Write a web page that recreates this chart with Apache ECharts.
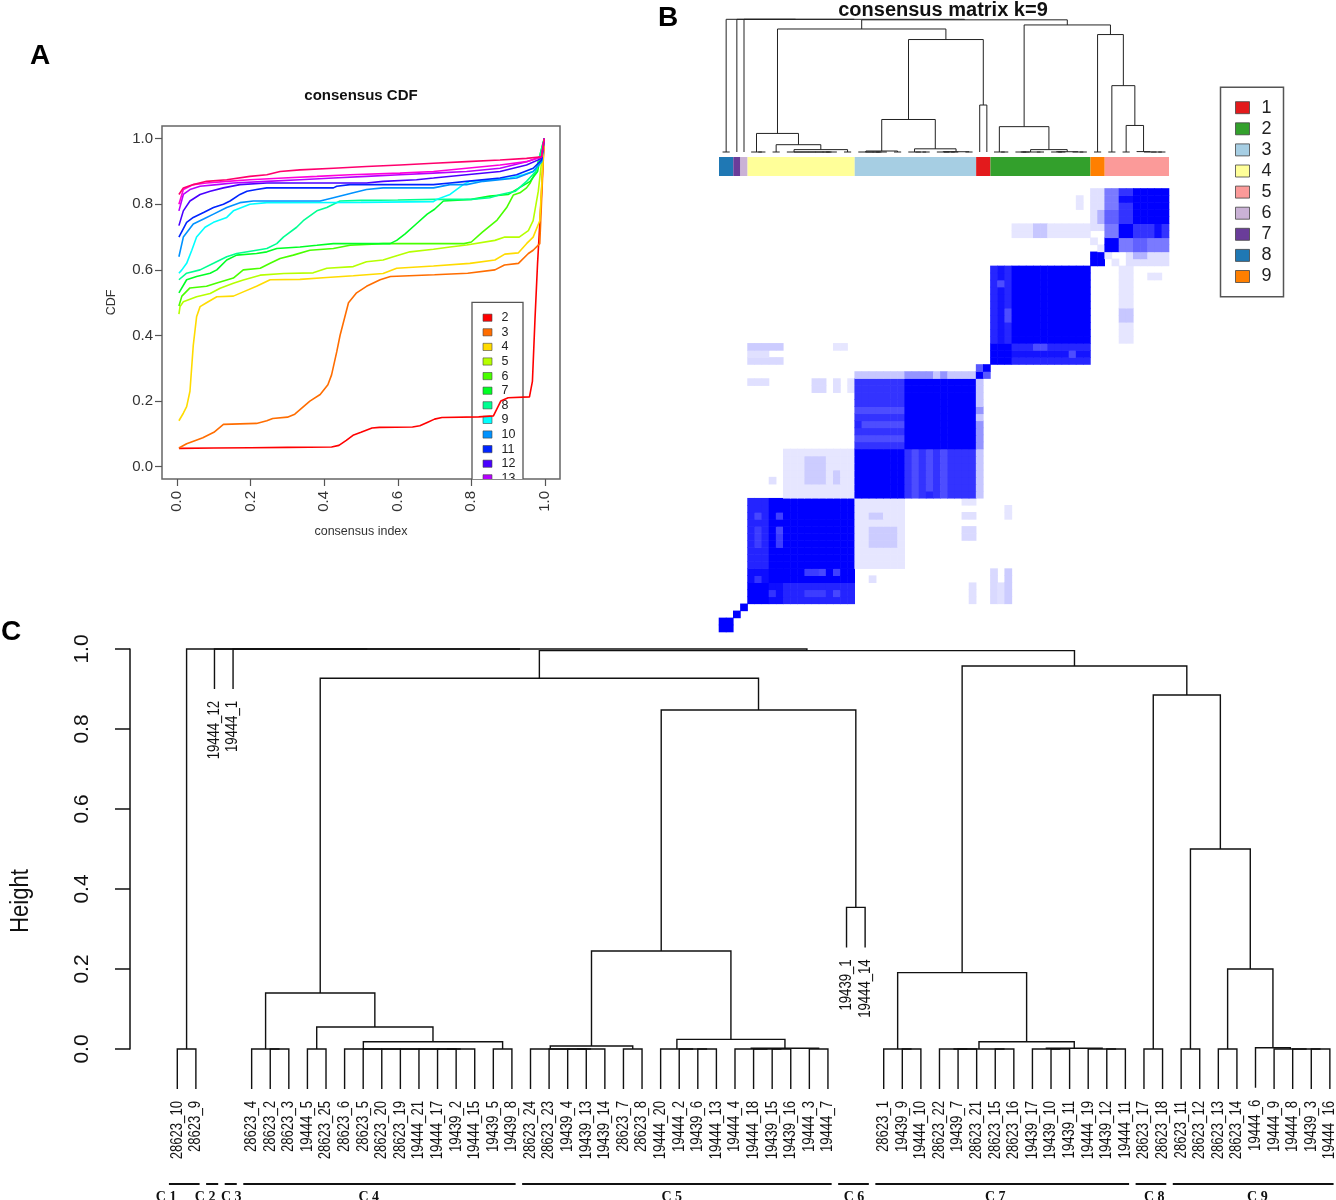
<!DOCTYPE html>
<html>
<head>
<meta charset="utf-8">
<title>Consensus clustering</title>
<script src="https://cdn.jsdelivr.net/npm/echarts@6/dist/echarts.min.js"></script>
<style>
html, body { margin: 0; padding: 0; background: #fff; }
#main { width: 1336px; height: 1200px; }
</style>
</head>
<body>
<div id="main"></div>
<script>
// ---- panel A: consensus CDF, one curve per k ----
const kValues = [2, 3, 4, 5, 6, 7, 8, 9, 10, 11, 12, 13, 14, 15];
const kColors = ['#FF0000', '#FF6D00', '#FFDB00', '#B6FF00', '#49FF00', '#00FF24', '#00FF92',
                 '#00FFFF', '#0092FF', '#0024FF', '#4900FF', '#B600FF', '#FF00DB', '#FF006D'];
const cdfTicks = [0, 0.2, 0.4, 0.6, 0.8, 1.0];

const cdf2 = [[0.005,0.056],[0.1,0.057],[0.2,0.058],[0.3,0.059],[0.42,0.06],[0.44,0.065],[0.46,0.08],[0.48,0.097],
  [0.5,0.105],[0.53,0.118],[0.55,0.12],[0.64,0.121],[0.66,0.125],[0.68,0.135],[0.7,0.145],[0.72,0.15],[0.82,0.152],
  [0.86,0.155],[0.88,0.2],[0.9,0.21],[0.958,0.213],[0.966,0.26],[0.973,0.45],[0.98,0.62],[0.99,0.82],[0.998,1.0]];
const cdf3 = [[0.005,0.057],[0.026,0.07],[0.05,0.08],[0.07,0.088],[0.1,0.105],[0.126,0.129],[0.216,0.132],[0.244,0.14],
  [0.26,0.147],[0.3,0.151],[0.32,0.16],[0.361,0.2],[0.389,0.22],[0.41,0.25],[0.42,0.28],[0.434,0.35],[0.443,0.4],
  [0.466,0.5],[0.488,0.53],[0.515,0.55],[0.552,0.57],[0.58,0.58],[0.7,0.585],[0.79,0.59],[0.864,0.6],[0.89,0.615],
  [0.928,0.62],[0.955,0.65],[0.968,0.66],[0.986,0.68],[0.998,1.0]];
const cdf4 = [[0.005,0.14],[0.017,0.163],[0.026,0.183],[0.035,0.23],[0.044,0.37],[0.053,0.457],[0.0625,0.488],[0.08,0.5],
  [0.108,0.518],[0.153,0.52],[0.18,0.533],[0.216,0.55],[0.253,0.57],[0.334,0.571],[0.407,0.577],[0.479,0.582],[0.56,0.589],
  [0.597,0.605],[0.697,0.612],[0.796,0.62],[0.864,0.63],[0.891,0.648],[0.928,0.652],[0.95,0.68],[0.968,0.7],[0.986,0.75],[0.998,1.0]];
const cdf5 = [[0.005,0.465],[0.008,0.488],[0.017,0.503],[0.053,0.518],[0.09,0.528],[0.117,0.544],[0.153,0.559],[0.18,0.569],
  [0.226,0.584],[0.29,0.589],[0.37,0.591],[0.407,0.605],[0.479,0.61],[0.515,0.625],[0.56,0.63],[0.588,0.64],[0.633,0.655],
  [0.697,0.663],[0.742,0.67],[0.787,0.676],[0.864,0.69],[0.891,0.7],[0.93,0.7],[0.955,0.72],[0.968,0.75],[0.982,0.84],[0.998,1.0]];
const cdf6 = [[0.005,0.49],[0.013,0.52],[0.035,0.545],[0.08,0.55],[0.108,0.56],[0.153,0.575],[0.18,0.6],[0.226,0.605],
  [0.253,0.62],[0.28,0.635],[0.316,0.645],[0.361,0.66],[0.425,0.665],[0.47,0.675],[0.56,0.68],[0.78,0.68],[0.8,0.685],
  [0.83,0.715],[0.87,0.752],[0.896,0.79],[0.914,0.828],[0.932,0.835],[0.95,0.85],[0.96,0.865],[0.975,0.9],[0.998,1.0]];
const cdf7 = [[0.005,0.53],[0.026,0.57],[0.053,0.58],[0.09,0.59],[0.108,0.6],[0.135,0.63],[0.162,0.645],[0.216,0.65],
  [0.244,0.655],[0.271,0.665],[0.334,0.67],[0.38,0.675],[0.425,0.68],[0.579,0.68],[0.597,0.69],[0.62,0.71],[0.65,0.74],
  [0.68,0.77],[0.7,0.785],[0.724,0.81],[0.8,0.815],[0.85,0.825],[0.9,0.83],[0.93,0.85],[0.96,0.87],[0.98,0.9],[0.998,1.0]];
const cdf8 = [[0.005,0.57],[0.026,0.59],[0.0625,0.6],[0.099,0.62],[0.135,0.64],[0.162,0.65],[0.216,0.66],[0.244,0.665],
  [0.271,0.68],[0.289,0.7],[0.325,0.73],[0.343,0.75],[0.38,0.78],[0.407,0.79],[0.443,0.81],[0.5,0.812],[0.6,0.813],
  [0.7,0.815],[0.8,0.815],[0.85,0.82],[0.88,0.83],[0.92,0.84],[0.95,0.87],[0.975,0.9],[0.998,1.0]];
const cdf9 = [[0.005,0.59],[0.013,0.6],[0.026,0.62],[0.04,0.66],[0.053,0.7],[0.076,0.73],[0.099,0.745],[0.135,0.76],
  [0.153,0.78],[0.198,0.8],[0.244,0.805],[0.5,0.806],[0.697,0.808],[0.706,0.815],[0.742,0.83],[0.778,0.86],[0.796,0.87],
  [0.86,0.875],[0.905,0.88],[0.941,0.89],[0.968,0.9],[0.991,0.93],[0.998,1.0]];
const cdf10 = [[0.005,0.64],[0.017,0.7],[0.044,0.74],[0.072,0.755],[0.099,0.77],[0.135,0.79],[0.171,0.805],[0.207,0.81],
  [0.389,0.81],[0.425,0.82],[0.479,0.835],[0.515,0.845],[0.56,0.85],[0.697,0.85],[0.742,0.86],[0.787,0.86],[0.832,0.87],
  [0.923,0.88],[0.968,0.9],[0.991,0.93],[0.998,1.0]];
const cdf11 = [[0.005,0.7],[0.026,0.745],[0.044,0.76],[0.072,0.775],[0.099,0.79],[0.126,0.8],[0.144,0.81],[0.171,0.83],
  [0.19,0.84],[0.216,0.845],[0.244,0.85],[0.425,0.85],[0.434,0.855],[0.47,0.86],[0.697,0.86],[0.742,0.865],[0.787,0.87],
  [0.878,0.88],[0.923,0.89],[0.968,0.91],[0.991,0.935],[0.998,1.0]];
const cdf12 = [[0.005,0.735],[0.017,0.78],[0.035,0.81],[0.0625,0.83],[0.09,0.84],[0.126,0.85],[0.171,0.86],[0.244,0.865],
  [0.515,0.865],[0.56,0.87],[0.651,0.875],[0.697,0.88],[0.787,0.89],[0.878,0.9],[0.95,0.92],[0.991,0.94],[0.998,1.0]];
const cdf13 = [[0.005,0.78],[0.017,0.83],[0.035,0.845],[0.0625,0.855],[0.108,0.86],[0.153,0.865],[0.244,0.87],[0.334,0.875],
  [0.425,0.88],[0.515,0.885],[0.606,0.89],[0.697,0.895],[0.787,0.9],[0.878,0.91],[0.95,0.93],[0.991,0.945],[0.998,1.0]];
const cdf14 = [[0.005,0.8],[0.017,0.845],[0.044,0.86],[0.08,0.865],[0.135,0.87],[0.198,0.875],[0.289,0.88],[0.38,0.885],
  [0.47,0.89],[0.606,0.895],[0.697,0.9],[0.787,0.91],[0.878,0.92],[0.95,0.93],[0.991,0.945],[0.998,1.0]];
const cdf15 = [[0.005,0.83],[0.017,0.85],[0.044,0.86],[0.08,0.87],[0.135,0.875],[0.198,0.885],[0.244,0.89],[0.28,0.9],
  [0.334,0.905],[0.425,0.91],[0.515,0.915],[0.606,0.92],[0.697,0.925],[0.787,0.93],[0.878,0.935],[0.95,0.94],[0.991,0.945],[0.998,1.0]];
const cdfCurves = [cdf2, cdf3, cdf4, cdf5, cdf6, cdf7, cdf8, cdf9, cdf10, cdf11, cdf12, cdf13, cdf14, cdf15];

// ---- clusters (k = 9) ----
const clusterNames = ['C 1', 'C 2', 'C 3', 'C 4', 'C 5', 'C 6', 'C 7', 'C 8', 'C 9'];
const clusterSizes = [2, 1, 1, 15, 17, 2, 14, 2, 9];
const clusterLabelAt = [0.4, 2.5, 3.9, 11.3, 27.6, 37.4, 45.0, 53.55, 59.1];  // leaf units
const consensusClass = [8, 7, 6, 4, 3, 1, 2, 9, 5];
const classLabels = ['1', '2', '3', '4', '5', '6', '7', '8', '9'];
const classColors = ['#E31A1C', '#33A02C', '#A6CEE3', '#FFFF99', '#FB9A99', '#CAB2D6', '#6A3D9A', '#1F78B4', '#FF7F00'];

// sample dendrogram: [height, left, right]; leaves are sample names
const sampleTree = [1.0, [0, '28623_10', '28623_9'],
  [1.0, '19444_12',
    [1.0, '19444_1',
      [0.996,
        [0.927,
          [0.14,
            [0, '28623_4', [0, '28623_2', '28623_3']],
            [0.055,
              [0, '19444_5', '28623_25'],
              [0.018,
                [0, '28623_6', [0, '28623_5', [0, '28623_20', [0, '28623_19', [0, '19444_21',
                  [0, [0, '19444_17', '19439_2'], '19444_15']]]]]],
                [0, '19439_5', '19439_8']]]],
          [0.8475,
            [0.245,
              [0.0075,
                [0, '28623_24', [0, '28623_23', [0, [0, '19439_4', '19439_13'], '19439_14']]],
                [0, '28623_7', '28623_8']],
              [0.024,
                [0, '19444_20', [0, '19444_2', [0, '19439_6', '19444_13']]],
                [0.002,
                  [0, '19444_4', [0, '19444_18', [0, '19439_15', '19439_16']]],
                  [0, '19444_3', '19444_7']]]],
            [0.354, '19439_1', '19444_14']]],
        [0.9575,
          [0.191,
            [0, '28623_1', [0, '19439_9', '19444_10']],
            [0.018,
              [0, [0, '28623_22', [0, '19439_7', '28623_21']], [0, '28623_15', '28623_16']],
              [0.002,
                [0, '19439_17', [0, '19439_10', '19439_11']],
                [0, '19444_19', [0, '19439_12', '19444_11']]]]],
          [0.885,
            [0, '28623_17', '28623_18'],
            [0.5,
              [0, '28623_11', '28623_12'],
              [0.2,
                [0, '28623_13', '28623_14'],
                [0.003, '19444_6', [0, '19444_9', [0, '19444_8', [0, '19439_3', '19444_16']]]]]]]]]]]];

// consensus values off the cluster blocks: [rowFrom, rowTo, colFrom, colTo, value] (leaf order, mirrored)
const consensusPatches = [
  [10, 19, 5, 7, 0.86], [8, 9, 5, 7, 0.95], [17, 17, 6, 6, 0.72], [17, 17, 9, 9, 0.75],
  [13, 15, 6, 6, 0.76], [13, 15, 9, 9, 0.76], [8, 8, 6, 6, 0.8], [15, 15, 9, 9, 0.72],
  [20, 26, 10, 19, 0.1], [22, 25, 13, 15, 0.2], [22, 23, 17, 17, 0.2], [22, 22, 8, 8, 0.12],
  [27, 36, 20, 26, 0.8], [28, 28, 20, 26, 0.7], [30, 30, 20, 26, 0.7], [32, 32, 20, 26, 0.7], [30, 30, 20, 20, 0.85],
  [37, 37, 20, 36, 0.22], [37, 37, 27, 30, 0.42], [37, 37, 32, 32, 0.42], [37, 37, 38, 38, 0.65],
  [41, 41, 5, 9, 0.2], [39, 39, 5, 9, 0.15], [40, 40, 5, 7, 0.12], [41, 41, 17, 18, 0.1],
  [36, 36, 5, 7, 0.12], [35, 36, 14, 15, 0.15], [35, 36, 17, 17, 0.12], [35, 36, 19, 19, 0.1],
  [42, 52, 39, 39, 0.85], [42, 52, 40, 40, 0.92], [42, 52, 41, 41, 0.85], [45, 46, 41, 41, 0.7], [50, 50, 40, 40, 0.7],
  [57, 58, 42, 52, 0.1], [57, 58, 45, 46, 0.22], [61, 62, 51, 51, 0.1],
  [58, 63, 53, 54, 0.12], [59, 60, 54, 54, 0.3], [55, 55, 54, 54, 0.1], [56, 56, 53, 53, 0.1],
  [57, 63, 55, 56, 0.52], [59, 60, 55, 56, 0.62], [59, 63, 57, 58, 0.8], [62, 62, 57, 58, 0.95]
];

// ---- build tree geometry in leaf units ----
function buildTree(tree, hang) {
  const leaves = [], links = [], tips = [];
  function walk(node) {
    if (typeof node === 'string') {
      leaves.push(node);
      return { x: leaves.length, leaf: true };
    }
    const a = walk(node[1]);
    const b = walk(node[2]);
    const h = node[0];
    const ya = a.leaf ? (hang < 0 ? 0 : h - hang) : a.h;
    const yb = b.leaf ? (hang < 0 ? 0 : h - hang) : b.h;
    if (a.leaf) tips.push([a.x, ya]);
    if (b.leaf) tips.push([b.x, yb]);
    links.push([a.x, ya, b.x, yb, h]);
    return { x: (a.x + b.x) / 2, h: h, leaf: false };
  }
  walk(tree);
  tips.sort((p, q) => p[0] - q[0]);
  return { leaves: leaves, links: links, tips: tips };
}
const treeC = buildTree(sampleTree, 0.1);
const treeB = buildTree(sampleTree, -1);
const nLeaf = treeC.leaves.length;

// cluster spans
const clusterSpans = [];
let cum = 0;
clusterSizes.forEach(function (s, i) {
  clusterSpans.push([cum + 1, cum + s, i]);
  cum += s;
});

// consensus matrix
const mat = [];
for (let i = 0; i < nLeaf; i++) mat.push(new Array(nLeaf).fill(0));
clusterSpans.forEach(function (sp) {
  for (let i = sp[0]; i <= sp[1]; i++) for (let j = sp[0]; j <= sp[1]; j++) mat[i - 1][j - 1] = 1;
});
consensusPatches.forEach(function (p) {
  for (let r = p[0]; r <= p[1]; r++) for (let c = p[2]; c <= p[3]; c++) {
    mat[r - 1][c - 1] = p[4];
    mat[c - 1][r - 1] = p[4];
  }
});
const heatData = [];
for (let r = 0; r < nLeaf; r++) for (let c = 0; c < nLeaf; c++) {
  if (mat[r][c] > 0) heatData.push([c + 1, r + 1, mat[r][c]]);
}

const chart = echarts.init(document.getElementById('main'), null, { renderer: 'canvas' });

const SANS = '"Liberation Sans", Arial, Helvetica, sans-serif';
const NARROW = 0.82;   // R's narrow Helvetica in panel C

function linkRenderer(color, width) {
  return function (params, api) {
    const p1 = api.coord([api.value(0), api.value(1)]);
    const p2 = api.coord([api.value(0), api.value(4)]);
    const p3 = api.coord([api.value(2), api.value(4)]);
    const p4 = api.coord([api.value(2), api.value(3)]);
    return {
      type: 'polyline',
      shape: { points: [p1, p2, p3, p4] },
      style: { stroke: color, lineWidth: width, fill: null }
    };
  };
}

const cdfSeries = cdfCurves.map(function (d, i) {
  return {
    type: 'line', name: String(kValues[i]), xAxisIndex: 0, yAxisIndex: 0,
    data: d, showSymbol: false, symbol: 'none', silent: true,
    lineStyle: { color: kColors[i], width: 1.6 }, itemStyle: { color: kColors[i] }
  };
});

const option = {
  animation: false,
  backgroundColor: '#ffffff',
  grid: [
    { left: 162, top: 126, width: 398, height: 353, show: true, borderColor: '#666', borderWidth: 1.5, backgroundColor: 'transparent' },
    { left: 719, top: 19.3, width: 450, height: 132.7 },
    { left: 719, top: 157, width: 450, height: 19 },
    { left: 719, top: 188.5, width: 450, height: 443.5 },
    { left: 130, top: 649, width: 1206, height: 400 }
  ],
  xAxis: [
    {
      gridIndex: 0, type: 'value', min: -0.041, max: 1.041, position: 'bottom',
      axisLine: { show: false, onZero: false }, splitLine: { show: false },
      axisTick: { show: true, length: 7, customValues: cdfTicks, lineStyle: { color: '#555', width: 1.2 } },
      axisLabel: { customValues: cdfTicks, rotate: 90, margin: 12, fontSize: 15, color: '#333', fontFamily: SANS,
        formatter: function (v) { return v.toFixed(1); } },
      name: 'consensus index', nameLocation: 'middle', nameGap: 46,
      nameTextStyle: { fontSize: 12.5, color: '#333', fontFamily: SANS }
    },
    { gridIndex: 1, type: 'value', min: 0.5, max: nLeaf + 0.5, show: false },
    { gridIndex: 2, type: 'value', min: 0.5, max: nLeaf + 0.5, show: false },
    { gridIndex: 3, type: 'value', min: 0.5, max: nLeaf + 0.5, show: false },
    { gridIndex: 4, type: 'value', min: -1.544, max: 63.33, show: false }
  ],
  yAxis: [
    {
      gridIndex: 0, type: 'value', min: -0.0375, max: 1.0387, position: 'left',
      axisLine: { show: false, onZero: false }, splitLine: { show: false },
      axisTick: { show: true, length: 7, customValues: cdfTicks, lineStyle: { color: '#555', width: 1.2 } },
      axisLabel: { customValues: cdfTicks, margin: 9, fontSize: 15, color: '#333', fontFamily: SANS,
        formatter: function (v) { return v.toFixed(1); } },
      name: 'CDF', nameLocation: 'middle', nameGap: 44, nameRotate: 90,
      nameTextStyle: { fontSize: 12.5, color: '#333', fontFamily: SANS }
    },
    { gridIndex: 1, type: 'value', min: 0, max: 1, show: false },
    { gridIndex: 2, type: 'value', min: 0, max: 1, show: false },
    { gridIndex: 3, type: 'value', min: 0.5, max: nLeaf + 0.5, show: false },
    {
      gridIndex: 4, type: 'value', min: 0, max: 1, interval: 0.2,
      axisLine: { show: true, onZero: false, lineStyle: { color: '#111', width: 1.5 } },
      axisTick: { show: true, length: 15, lineStyle: { color: '#111', width: 1.5 } },
      splitLine: { show: false },
      axisLabel: { rotate: 90, margin: 37, fontSize: 21, color: '#111', fontFamily: SANS,
        formatter: function (v) { return v.toFixed(1); } }
    }
  ],
  visualMap: [{
    type: 'continuous', show: false, seriesIndex: cdfSeries.length + 3, dimension: 2,
    min: 0, max: 1, inRange: { color: ['#ffffff', '#0000ff'] }
  }],
  series: cdfSeries.concat([
    // legend of panel A, clipped by the plot box like the original
    {
      type: 'custom', xAxisIndex: 0, yAxisIndex: 0, clip: true, silent: true,
      data: kValues.map(function (k, i) { return [i]; }),
      renderItem: function (params, api) {
        const cs = params.coordSys;
        const i = params.dataIndex;
        const cy = cs.y + 191.7 + i * 14.6;
        const children = [];
        if (i === 0) {
          children.push({ type: 'rect', shape: { x: cs.x + 310, y: cs.y + 176.3, width: 51, height: 240 },
            style: { fill: '#fff', stroke: '#555', lineWidth: 1.3 } });
        }
        children.push({ type: 'rect', shape: { x: cs.x + 321, y: cy - 3.6, width: 9, height: 7.2 },
          style: { fill: kColors[i], stroke: '#444', lineWidth: 0.6 } });
        children.push({ type: 'text', x: cs.x + 339.5, y: cy,
          style: { text: String(kValues[i]), fontSize: 12.5, fontFamily: SANS, fill: '#222',
            align: 'left', verticalAlign: 'middle', textAlign: 'left', textVerticalAlign: 'middle' } });
        return { type: 'group', children: children };
      }
    },
    // panel B dendrogram
    {
      type: 'custom', xAxisIndex: 1, yAxisIndex: 1, silent: true, clip: false,
      data: treeB.links, renderItem: linkRenderer('#222', 1)
    },
    // panel B class colour bar
    {
      type: 'custom', xAxisIndex: 2, yAxisIndex: 2, silent: true, clip: false,
      data: clusterSpans.map(function (s) { return [s[0] - 0.5, s[1] + 0.5, s[2]]; }),
      renderItem: function (params, api) {
        const a = api.coord([api.value(0), 1]);
        const b = api.coord([api.value(1), 0]);
        const cls = consensusClass[params.dataIndex];
        return { type: 'rect', shape: { x: a[0], y: a[1], width: b[0] - a[0], height: b[1] - a[1] },
          style: { fill: classColors[cls - 1] } };
      }
    },
    // panel B consensus matrix
    {
      type: 'custom', xAxisIndex: 3, yAxisIndex: 3, silent: true,
      data: heatData,
      renderItem: function (params, api) {
        const p = api.coord([api.value(0), api.value(1)]);
        const s = api.size([1, 1]);
        return { type: 'rect',
          shape: { x: p[0] - s[0] / 2 - 0.3, y: p[1] - s[1] / 2 - 0.3, width: s[0] + 0.6, height: s[1] + 0.6 },
          style: { fill: api.visual('color') } };
      }
    },
    // panel C dendrogram
    {
      type: 'custom', xAxisIndex: 4, yAxisIndex: 4, silent: true, clip: false,
      data: treeC.links, renderItem: linkRenderer('#111', 1.4)
    },
    // panel C leaf labels
    {
      type: 'custom', xAxisIndex: 4, yAxisIndex: 4, silent: true, clip: false,
      data: treeC.tips,
      renderItem: function (params, api) {
        const p = api.coord([api.value(0), api.value(1)]);
        return { type: 'text', x: p[0], y: p[1] + 12, rotation: Math.PI / 2, scaleX: NARROW,
          style: { text: treeC.leaves[params.dataIndex], fontSize: 16, fontFamily: SANS, fill: '#111',
            align: 'right', verticalAlign: 'middle', textAlign: 'right', textVerticalAlign: 'middle' } };
      }
    },
    // panel C cluster bars
    {
      type: 'custom', xAxisIndex: 4, yAxisIndex: 4, silent: true, clip: false,
      data: clusterSpans.map(function (s, i) { return [s[0] - 0.45, s[1] + 0.2, clusterLabelAt[i]]; }),
      renderItem: function (params, api) {
        const a = api.coord([api.value(0), 0]);
        const b = api.coord([api.value(1), 0]);
        const mid = api.coord([api.value(2), 0]);
        const yLine = a[1] + 135;
        return { type: 'group', children: [
          { type: 'line', shape: { x1: a[0], y1: yLine, x2: b[0], y2: yLine }, style: { stroke: '#111', lineWidth: 2 } },
          { type: 'text', x: mid[0], y: yLine + 6,
            style: { text: clusterNames[params.dataIndex], fontSize: 14, fontWeight: 'bold',
              fontFamily: '"Liberation Serif", "Times New Roman", serif', fill: '#111',
              align: 'center', verticalAlign: 'top', textAlign: 'center', textVerticalAlign: 'top' } }
        ] };
      }
    }
  ]),
  graphic: [
    { type: 'text', x: 40, y: 56, style: { text: 'A', fontSize: 28, fontWeight: 'bold', fontFamily: SANS, fill: '#000',
      align: 'center', verticalAlign: 'middle', textAlign: 'center', textVerticalAlign: 'middle' } },
    { type: 'text', x: 668, y: 18, style: { text: 'B', fontSize: 28, fontWeight: 'bold', fontFamily: SANS, fill: '#000',
      align: 'center', verticalAlign: 'middle', textAlign: 'center', textVerticalAlign: 'middle' } },
    { type: 'text', x: 11, y: 632, style: { text: 'C', fontSize: 28, fontWeight: 'bold', fontFamily: SANS, fill: '#000',
      align: 'center', verticalAlign: 'middle', textAlign: 'center', textVerticalAlign: 'middle' } },
    { type: 'text', x: 361, y: 96, style: { text: 'consensus CDF', fontSize: 15, fontWeight: 'bold', fontFamily: SANS, fill: '#111',
      align: 'center', verticalAlign: 'middle', textAlign: 'center', textVerticalAlign: 'middle' } },
    { type: 'text', x: 943, y: 10, style: { text: 'consensus matrix k=9', fontSize: 20, fontWeight: 'bold', fontFamily: SANS, fill: '#111',
      align: 'center', verticalAlign: 'middle', textAlign: 'center', textVerticalAlign: 'middle' } },
    { type: 'text', x: 21, y: 901, rotation: Math.PI / 2, scaleX: 0.88, style: { text: 'Height', fontSize: 25, fontFamily: SANS, fill: '#111',
      align: 'center', verticalAlign: 'middle', textAlign: 'center', textVerticalAlign: 'middle' } },
    {
      type: 'group', x: 1220.5, y: 87.3,
      children: [{ type: 'rect', shape: { x: 0, y: 0, width: 63, height: 209.4 },
        style: { fill: '#fff', stroke: '#555', lineWidth: 1.5 } }].concat(
        classLabels.map(function (lab, i) {
          return { type: 'group', children: [
            { type: 'rect', shape: { x: 15, y: 14.4 + i * 21.1, width: 14, height: 12 },
              style: { fill: classColors[i], stroke: '#444', lineWidth: 0.8 } },
            { type: 'text', x: 41, y: 20.4 + i * 21.1,
              style: { text: lab, fontSize: 18, fontFamily: SANS, fill: '#222',
                align: 'left', verticalAlign: 'middle', textAlign: 'left', textVerticalAlign: 'middle' } }
          ] };
        }))
    }
  ]
};

chart.setOption(option);
</script>
</body>
</html>
